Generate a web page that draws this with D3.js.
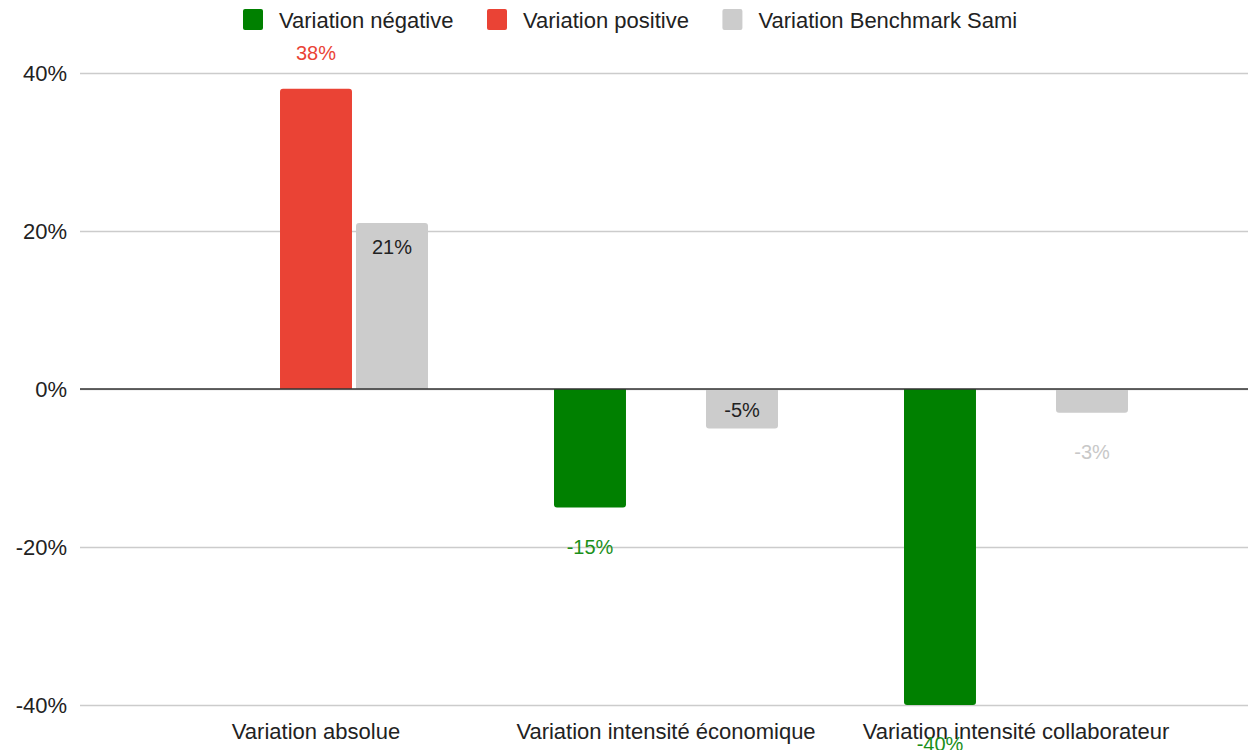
<!DOCTYPE html>
<html>
<head>
<meta charset="utf-8">
<script src="https://cdn.jsdelivr.net/npm/d3@7/dist/d3.min.js"></script>
<style>
body { margin: 0; background: #fff; }
text { font-family: "Liberation Sans", Arial, sans-serif; }
</style>
</head>
<body>
<script>
//data
var categories = ["Variation absolue", "Variation intensité économique", "Variation intensité collaborateur"];
var seriesNames = ["Variation négative", "Variation positive", "Variation Benchmark Sami"];
var negValues = [null, -0.15, -0.40];
var posValues = [0.38, null, null];
var benchValues = [0.21, -0.05, -0.03];
var yTicks = [-0.4, -0.2, 0, 0.2, 0.4];

var colors = ["#008000", "#ea4335", "#cccccc"];
var labelColors = ["#1a8f1a", "#ea4335", "#c8c8c8"];

//percent format with a plain hyphen
var pct = d3.formatLocale({decimal: ".", thousands: ",", grouping: [3], currency: ["", ""], minus: "-"}).format(".0%");

var w = 1249, h = 750;
var svg = d3.select("body").append("svg")
    .attr("width", w)
    .attr("height", h);

//scales
var y = d3.scaleLinear()
    .domain([-0.4, 0.4])
    .range([705, 73]);

var x0 = d3.scaleBand()
    .domain(categories)
    .range([141, 1191]);

var x1 = d3.scaleBand()
    .domain(d3.range(3))
    .range([63, 287])
    .paddingInner(0.053);

//grid lines
svg.append("g").selectAll("line")
    .data(yTicks)
    .enter()
    .append("line")
    .attr("x1", 80)
    .attr("x2", 1248)
    .attr("y1", function(d){ return Math.round(y(d)) + 0.5; })
    .attr("y2", function(d){ return Math.round(y(d)) + 0.5; })
    .style("stroke", "#cccccc")
    .style("stroke-width", 1.5);

//y tick labels
svg.append("g").selectAll("text")
    .data(yTicks)
    .enter()
    .append("text")
    .attr("x", 67)
    .attr("y", function(d){ return y(d); })
    .attr("dy", "0.35em")
    .attr("text-anchor", "end")
    .style("font-size", "22px")
    .style("fill", "#222")
    .text(pct);

//flatten bars
var bars = [];
categories.forEach(function(c, i){
    [negValues, posValues, benchValues].forEach(function(arr, s){
        if (arr[i] != null) bars.push({cat: c, s: s, v: arr[i]});
    });
});

//bar path with rounded outer end
function barPath(d){
    var bx = x0(d.cat) + x1(d.s), bw = x1.bandwidth();
    var y0 = y(0), y1 = y(d.v), r = 3;
    var dir = d.v >= 0 ? 1 : -1;
    return "M" + bx + "," + y0 +
        "L" + bx + "," + (y1 + dir * r) +
        "Q" + bx + "," + y1 + " " + (bx + r) + "," + y1 +
        "L" + (bx + bw - r) + "," + y1 +
        "Q" + (bx + bw) + "," + y1 + " " + (bx + bw) + "," + (y1 + dir * r) +
        "L" + (bx + bw) + "," + y0 + "Z";
}

svg.append("g").selectAll("path")
    .data(bars)
    .enter()
    .append("path")
    .attr("d", barPath)
    .style("fill", function(d){ return colors[d.s]; });

//zero line
svg.append("line")
    .attr("x1", 80)
    .attr("x2", 1248)
    .attr("y1", y(0))
    .attr("y2", y(0))
    .style("stroke", "#333")
    .style("stroke-width", 1.5);

//category labels
svg.append("g").selectAll("text")
    .data(categories)
    .enter()
    .append("text")
    .attr("x", function(d){ return x0(d) + x0.bandwidth() / 2; })
    .attr("y", 731)
    .attr("dy", "0.35em")
    .attr("text-anchor", "middle")
    .style("font-size", "22px")
    .style("fill", "#222")
    .text(function(d){ return d; });

//value labels
function isInside(d){
    return d.s == 2 && Math.abs(y(d.v) - y(0)) > 30;
}
svg.append("g").selectAll("text")
    .data(bars)
    .enter()
    .append("text")
    .attr("x", function(d){ return x0(d.cat) + x1(d.s) + x1.bandwidth() / 2; })
    .attr("y", function(d){
        if (isInside(d)) return d.v >= 0 ? y(d.v) + 24 : y(d.v) - 19;
        return d.v >= 0 ? y(d.v) - 36 : y(d.v) + 39;
    })
    .attr("dy", "0.35em")
    .attr("text-anchor", "middle")
    .style("font-size", "20px")
    .style("fill", function(d){ return isInside(d) ? "#222" : labelColors[d.s]; })
    .text(function(d){ return pct(d.v); });

//legend
var lx = 243;
seriesNames.forEach(function(name, i){
    svg.append("rect")
        .attr("x", lx)
        .attr("y", 9)
        .attr("width", 20)
        .attr("height", 21)
        .attr("rx", 2)
        .style("fill", colors[i]);
    var t = svg.append("text")
        .attr("x", lx + 36)
        .attr("y", 20)
        .attr("dy", "0.35em")
        .style("font-size", "22px")
        .style("fill", "#222")
        .text(name);
    lx = lx + 36 + t.node().getComputedTextLength() + 33.5;
});
</script>
</body>
</html>
